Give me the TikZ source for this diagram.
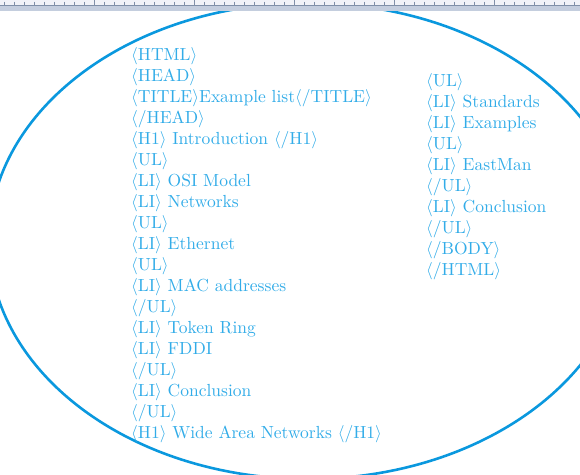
\documentclass[tikz,border=0pt]{standalone}
\usepackage{fontspec}
\usetikzlibrary{positioning}

\newfontfamily\tagfont{lmroman10-regular.otf}

\definecolor{ringblue}{RGB}{10,152,222}
\definecolor{tagblue}{RGB}{50,172,232}
\definecolor{rulerlight}{RGB}{241,243,248}
\definecolor{rulerdark}{RGB}{196,206,222}
\definecolor{rulertick}{RGB}{128,144,168}

\newcommand{\htag}[1]{$\langle$#1$\rangle$}

\begin{document}
\begin{tikzpicture}[x=1pt, y=-1pt, every node/.style={anchor=base west, inner sep=0pt, text=tagblue, font=\fontsize{17.5}{21}\tagfont}]

        % parameters
        \def\lx{131}                 % left column
        \def\rx{426}                 % right column
        \def\dy{21}                  % line spacing

        \useasboundingbox (0,0) rectangle (580,474);
        \clip (0,0) rectangle (580,474);

        % --- ellipse round the page ---
        \draw[ringblue, line width=2.6pt] (308,241) ellipse [x radius=319pt, y radius=238pt];

        % --- left column ---
        \foreach \txt [count=\i from 0] in {%
            {\htag{HTML}},
            {\htag{HEAD}},
            {\htag{TITLE}Example list\htag{/TITLE}},
            {\htag{/HEAD}},
            {\htag{H1} Introduction \htag{/H1}},
            {\htag{UL}},
            {\htag{LI} OSI Model},
            {\htag{LI} Networks},
            {\htag{UL}},
            {\htag{LI} Ethernet},
            {\htag{UL}},
            {\htag{LI} MAC addresses},
            {\htag{/UL}},
            {\htag{LI} Token Ring},
            {\htag{LI} FDDI},
            {\htag{/UL}},
            {\htag{LI} Conclusion},
            {\htag{/UL}},
            {\htag{H1} Wide Area Networks \htag{/H1}}} {%
            \node (l\i) at (\lx, 60+\dy*\i) {\txt};%
        }

        % --- right column ---
        \foreach \txt [count=\i from 0] in {%
            {\htag{UL}},
            {\htag{LI} Standards},
            {\htag{LI} Examples},
            {\htag{UL}},
            {\htag{LI} EastMan},
            {\htag{/UL}},
            {\htag{LI} Conclusion},
            {\htag{/UL}},
            {\htag{/BODY}},
            {\htag{/HTML}}} {%
            \node (r\i) at (\rx, 86+\dy*\i) {\txt};%
        }

        % --- ruler along the top ---
        \fill[rulerlight] (0,0) rectangle (580,5);
        \fill[rulerdark] (0,5) rectangle (580,11);
        \draw[rulertick, line width=0.8pt] (0,5) -- (580,5);
        \foreach \k in {0,...,57}
            \draw[rulertick, line width=0.8pt] (4.3+10*\k,1.5) -- (4.3+10*\k,5);
        \foreach \k in {0,...,4}
            \draw[rulertick, line width=0.8pt] (94.3+100*\k,0) -- (94.3+100*\k,5);

\end{tikzpicture}
\end{document}
